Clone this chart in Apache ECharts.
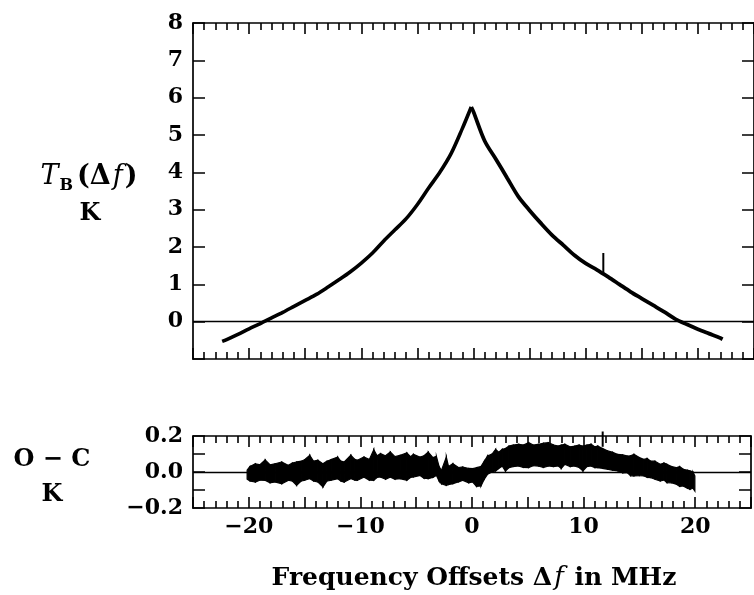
<!DOCTYPE html>
<html><head><meta charset="utf-8">
<script src="https://cdn.jsdelivr.net/npm/echarts@6/dist/echarts.min.js"></script>
<style>html,body{margin:0;padding:0;background:#fff}#c{width:754px;height:595px}</style>
</head><body><div id="c"></div>
<script>
// Top panel: brightness temperature T_B(Δf) in K vs frequency offset in MHz
const tbFreq = [-22.4,-22,-21,-20,-19,-18,-17,-16,-15,-14,-13,-12,-11,-10,-9,-8,-7,-6,-5,-4,-3,-2,-1,-0.2,
  0,1,2,3,4,5,6,7,8,9,10,11,12,13,14,15,16,17,18,19,20,21,22,22.2];
const tbTemp = [-0.53,-0.48,-0.34,-0.19,-0.05,0.10,0.25,0.41,0.57,0.73,0.92,1.12,1.33,1.57,1.84,2.16,2.46,2.76,3.14,3.58,4.00,4.50,5.17,5.75,
  5.62,4.84,4.35,3.85,3.35,2.98,2.64,2.32,2.05,1.78,1.56,1.39,1.20,1.00,0.80,0.62,0.44,0.26,0.07,-0.07,-0.20,-0.32,-0.44,-0.47];
const tbSpikeFreq = [11.57, 11.57];
const tbSpikeTemp = [1.30, 1.84];

// Bottom panel: O - C residual band (lower / upper envelope) in K
const ocFreq = [-20.15,-19.9,-19.41,-19.0,-18.53,-18.1,-17.64,-17.05,-16.46,-16.1,-15.72,-15.3,-14.99,-14.54,-14.2,-13.81,-13.36,-13.0,-12.63,-12.04,-11.75,-11.45,-10.86,-10.5,-10.27,-9.68,-9.2,-8.8,-8.5,-8.2,-7.75,-7.32,-6.9,-6.43,-5.84,-5.5,-5.25,-4.66,-4.3,-3.92,-3.5,-3.19,-2.95,-2.74,-2.3,-2.1,-1.71,-1.2,-0.83,-0.3,0.06,
  0.4,0.8,1.1,1.39,1.8,2.12,2.4,2.71,3.0,3.3,3.7,4.19,4.6,5.07,5.5,5.96,6.4,6.84,7.3,7.73,8.0,8.32,8.8,9.2,9.6,9.94,10.3,10.68,11.0,11.27,11.71,12.15,12.6,13.04,13.5,13.92,14.2,14.51,15.0,15.4,15.7,15.99,16.4,16.87,17.2,17.46,17.9,18.35,18.6,18.94,19.3,19.53,19.8,19.97];
const ocLow = [-0.04,-0.05,-0.056,-0.045,-0.046,-0.06,-0.056,-0.065,-0.046,-0.05,-0.074,-0.05,-0.046,-0.037,-0.05,-0.056,-0.083,-0.05,-0.046,-0.037,-0.05,-0.056,-0.037,-0.045,-0.046,-0.028,-0.045,-0.046,-0.03,-0.028,-0.04,-0.028,-0.04,-0.037,-0.046,-0.03,-0.028,-0.019,-0.035,-0.037,-0.03,-0.019,-0.05,-0.065,-0.074,-0.07,-0.065,-0.055,-0.046,-0.06,-0.056,
  -0.08,-0.078,-0.04,-0.013,0.0,0.006,0.02,0.033,0.005,0.024,0.03,0.033,0.025,0.024,0.035,0.033,0.025,0.033,0.03,0.033,0.02,0.043,0.03,0.033,0.025,0.006,0.03,0.033,0.024,0.024,0.02,0.015,0.01,0.006,-0.005,-0.004,-0.02,-0.022,-0.02,-0.022,-0.03,-0.031,-0.04,-0.05,-0.045,-0.059,-0.06,-0.069,-0.08,-0.078,-0.09,-0.096,-0.09,-0.106];
const ocHigh = [0.01,0.03,0.046,0.04,0.067,0.04,0.046,0.056,0.037,0.05,0.056,0.06,0.069,0.093,0.06,0.065,0.046,0.06,0.069,0.083,0.06,0.056,0.093,0.07,0.065,0.083,0.07,0.124,0.09,0.102,0.09,0.111,0.085,0.093,0.106,0.085,0.098,0.083,0.09,0.111,0.08,0.087,0.03,0.009,0.083,0.03,0.046,0.025,0.028,0.02,0.019,
  0.024,0.03,0.06,0.089,0.10,0.126,0.11,0.126,0.13,0.144,0.15,0.154,0.15,0.163,0.15,0.154,0.16,0.163,0.15,0.144,0.15,0.154,0.14,0.144,0.15,0.144,0.15,0.154,0.14,0.144,0.13,0.117,0.11,0.098,0.095,0.089,0.09,0.098,0.08,0.07,0.075,0.061,0.06,0.043,0.05,0.043,0.03,0.024,0.03,0.015,0.01,0.006,0.0,-0.022];
const ocSpikeFreq = [11.71, 11.71];
const ocSpikeVal = [0.14, 0.225];

const xTicks = { min: -25, max: 25, interval: 5 };
const topYTicks = { min: -1, max: 8, interval: 1 };
const botYTicks = { min: -0.2, max: 0.2, interval: 0.1 };

const zip = (a, b) => a.map((v, i) => [v, b[i]]);
const peak = tbTemp.indexOf(Math.max(...tbTemp));
const tbLeft = zip(tbFreq.slice(0, peak + 1), tbTemp.slice(0, peak + 1));
const tbRight = zip(tbFreq.slice(peak), tbTemp.slice(peak));
const ocBand = ocFreq.map((f, i) => [f, ocLow[i], ocHigh[i]]);

const FONT = 'DejaVu Serif';
const lineStyle = { color: '#000', width: 1.7 };
const lab = { fontFamily: FONT, fontWeight: 'bold', fontSize: 22, color: '#000' };
const minus = s => String(s).replace('-', '\u2212');

function xAxis(grid, pos, showLabel) {
  return {
    type: 'value', gridIndex: grid, position: pos, min: xTicks.min, max: xTicks.max, interval: xTicks.interval,
    axisLine: { show: true, onZero: false, lineStyle },
    axisTick: { show: true, inside: true, length: 11, lineStyle: { color: '#000', width: 1.6 } },
    minorTick: { show: true, splitNumber: 5, length: 7, lineStyle: { color: '#000', width: 1.6 } },
    splitLine: { show: false },
    axisLabel: showLabel ? Object.assign({ margin: 8, formatter: v => (v % 10 === 0 ? minus(v) : '') }, lab) : { show: false }
  };
}
function yAxis(grid, pos, ticks, fmt) {
  return {
    type: 'value', gridIndex: grid, position: pos, min: ticks.min, max: ticks.max, interval: ticks.interval,
    axisLine: { show: true, onZero: false, lineStyle },
    axisTick: { show: true, inside: true, length: 12, lineStyle: { color: '#000', width: 1.5 } },
    splitLine: { show: false },
    axisLabel: fmt ? Object.assign({ margin: 10, formatter: fmt }, lab) : { show: false }
  };
}

const zeroLine = { silent: true, symbol: 'none', label: { show: false }, lineStyle: { color: '#000', width: 1.3, type: 'solid' }, data: [{ yAxis: 0 }] };

const chart = echarts.init(document.getElementById('c'), null, { renderer: 'canvas' });
chart.setOption({
  backgroundColor: '#fff',
  animation: false,
  grid: [
    { left: 193, top: 23, right: -5, height: 336 },
    { left: 193, top: 436, right: -5, height: 72 }
  ],
  xAxis: [xAxis(0, 'bottom', false), xAxis(0, 'top', false), xAxis(1, 'bottom', true), xAxis(1, 'top', false)],
  yAxis: [
    yAxis(0, 'left', topYTicks, v => (v >= 0 ? String(v) : '')),
    yAxis(0, 'right', topYTicks, null),
    yAxis(1, 'left', botYTicks, v => { const k = Math.round(v * 10); return k % 2 === 0 ? minus((k / 10).toFixed(1)) : ''; }),
    yAxis(1, 'right', botYTicks, null)
  ],
  series: [
    { type: 'line', xAxisIndex: 0, yAxisIndex: 0, data: tbLeft, smooth: 0.3, showSymbol: false, lineStyle: { color: '#000', width: 3.6 }, markLine: zeroLine, z: 3 },
    { type: 'line', xAxisIndex: 0, yAxisIndex: 0, data: tbRight, smooth: 0.3, showSymbol: false, lineStyle: { color: '#000', width: 3.8 }, z: 3 },
    { type: 'line', xAxisIndex: 0, yAxisIndex: 0, data: zip(tbSpikeFreq, tbSpikeTemp), showSymbol: false, lineStyle: { color: '#000', width: 2 }, z: 3 },
    { type: 'custom', xAxisIndex: 2, yAxisIndex: 2, data: ocBand, encode: { x: 0, y: [1, 2] }, z: 3,
      renderItem: (params, api) => {
        const i = params.dataIndexInside;
        if (i >= params.dataInsideLength - 1) return null;
        const a = api.coord([api.value(0, i), api.value(2, i)]);
        const b = api.coord([api.value(0, i + 1), api.value(2, i + 1)]);
        const c = api.coord([api.value(0, i + 1), api.value(1, i + 1)]);
        const d = api.coord([api.value(0, i), api.value(1, i)]);
        return { type: 'polygon', shape: { points: [a, b, c, d] }, style: { fill: '#000', stroke: '#000', lineWidth: 1.2 } };
      } },
    { type: 'line', xAxisIndex: 2, yAxisIndex: 2, data: zip(ocSpikeFreq, ocSpikeVal), clip: false, showSymbol: false, lineStyle: { color: '#000', width: 2 }, markLine: zeroLine, z: 3 }
  ],
  graphic: [
    { type: 'text', x: 89, y: 177, style: {
      text: '{ti|T}{sb|B}{n|(Δ}{ti|f}{n|)}', align: 'center', verticalAlign: 'middle', fill: '#000',
      rich: {
        ti: { fontFamily: FONT, fontStyle: 'italic', fontSize: 27, lineHeight: 34, fill: '#000', padding: [0, 1, 0, 1] },
        sb: { fontFamily: FONT, fontWeight: 'bold', fontSize: 16, lineHeight: 17, verticalAlign: 'bottom', fill: '#000', padding: [0, 3, 0, 0] },
        n: { fontFamily: FONT, fontWeight: 'bold', fontSize: 27, lineHeight: 34, fill: '#000', padding: [0, 1, 0, 1] }
      } } },
    { type: 'text', x: 90, y: 214, style: { text: 'K', align: 'center', verticalAlign: 'middle', fill: '#000', font: 'bold 24px "DejaVu Serif"' } },
    { type: 'text', x: 52, y: 460, style: { text: 'O \u2212 C', align: 'center', verticalAlign: 'middle', fill: '#000', font: 'bold 24px "DejaVu Serif"' } },
    { type: 'text', x: 52, y: 495, style: { text: 'K', align: 'center', verticalAlign: 'middle', fill: '#000', font: 'bold 24px "DejaVu Serif"' } },
    { type: 'text', x: 474, y: 578, style: {
      text: '{b|Frequency Offsets Δ}{i|f}{b| in MHz}', align: 'center', verticalAlign: 'middle', fill: '#000',
      rich: {
        b: { fontFamily: FONT, fontWeight: 'bold', fontSize: 25, fill: '#000' },
        i: { fontFamily: FONT, fontStyle: 'italic', fontSize: 26, fill: '#000', padding: [0, 2, 0, 2] }
      } } }
  ]
});
</script></body></html>
